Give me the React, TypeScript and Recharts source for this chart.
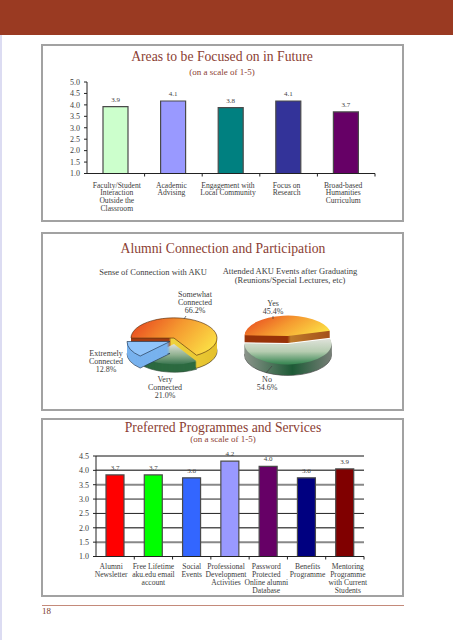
import React from 'react';
import { BarChart, Bar, XAxis, YAxis, CartesianGrid, Cell, LabelList, PieChart, Pie } from 'recharts';

// areas chart
const areaCats = ['Faculty/Student\nInteraction\nOutside the\nClassroom', 'Academic\nAdvising', 'Engagement with\nLocal Community', 'Focus on\nResearch', 'Broad-based\nHumanities\nCurriculum'];
const areaVals = [3.92, 4.17, 3.88, 4.17, 3.69];
const areaLabels = ['3.9', '4.1', '3.8', '4.1', '3.7'];
const areaColors = ['#ccffcc', '#9999ff', '#008080', '#333399', '#660066'];
const areaTicks = [1, 1.5, 2, 2.5, 3, 3.5, 4, 4.5, 5];

// programmes chart
const progCats = ['Alumni\nNewsletter', 'Free Lifetime\naku.edu email\naccount', 'Social\nEvents', 'Professional\nDevelopment\nActivities', 'Password\nProtected\nOnline alumni\nDatabase', 'Benefits\nProgramme', 'Mentoring\nProgramme\nwith Current\nStudents'];
const progVals = [3.84, 3.84, 3.74, 4.32, 4.14, 3.74, 4.05];
const progLabels = ['3.7', '3.7', '3.6', '4.2', '4.0', '3.6', '3.9'];
const progColors = ['#ff0000', '#00ff00', '#3366ff', '#9999ff', '#660066', '#000080', '#800000'];
const progTicks = [1, 1.5, 2, 2.5, 3, 3.5, 4, 4.5];

// pies
const connectNames = ['Somewhat Connected', 'Very Connected', 'Extremely Connected'];
const connectVals = [66.2, 21.0, 12.8];
const attendNames = ['Yes', 'No'];
const attendVals = [45.4, 54.6];

// styling, not data: grid line look per tick, small label shifts per category
const gridStyles: [string, number][] = [['#000', 1], ['#888', 2], ['#555', 1.5], ['#222', 1], ['#222', 1], ['#888', 2], ['#555', 1.5], ['#111', 1]];
const areaNudge = [1, -2, -3, -2, -3];
const progNudge = [-4, 0, 0, -4, -2, 1, 3];

const SERIF = '"Liberation Serif", serif';
const SQUASH = 0.47;

const areaData = areaCats.map((name, i) => ({ name, value: areaVals[i], label: areaLabels[i] }));
const progData = progCats.map((name, i) => ({ name, value: progVals[i], label: progLabels[i] }));
const connectData = connectNames.map((name, i) => ({ name, value: connectVals[i] }));
const attendData = attendNames.map((name, i) => ({ name, value: attendVals[i] }));

const CatTick = ({ x, y, payload, index, band, nudge, dy }: any) => {
    const lines = String(payload.value).split('\n');
    const tx = x + nudge[index];
    return (
        <g>
            <line x1={x + band / 2} x2={x + band / 2} y1={y} y2={y + 3} stroke="#222" />
            <text x={tx} y={y + dy} textAnchor="middle" fontSize={7.6} fontFamily={SERIF} fill="#3c3c3c">
                {lines.map((l, i) => <tspan key={i} x={tx} dy={i === 0 ? 0 : 7.9}>{l}</tspan>)}
            </text>
        </g>
    );
};

const Label = ({ x, y, w, size, color = '#3c3c3c', align = 'center', children }: any) => (
    <div style={{
        position: 'absolute', left: x - (align === 'center' ? w / 2 : 0), top: y, width: w, textAlign: align,
        fontSize: size, lineHeight: 1, color, fontFamily: SERIF, whiteSpace: 'pre',
    }}>{children}</div>
);

const Panel = ({ top, height }: any) => (
    <div style={{ position: 'absolute', left: 41, top, width: 363, height, boxSizing: 'border-box', border: '2px solid #a2a2a2', background: '#fff' }} />
);

const BarsPanel = ({ data, colors, ticks, domain, top, left, plotW, plotTop, plotH, barSize, grid, nudge, labelDy }: any) => (
    <div style={{ position: 'absolute', left: 41, top }}>
        <BarChart
            width={363} height={178} data={data}
            margin={{ left: left - 30, right: 363 - left - plotW, top: plotTop, bottom: 178 - plotTop - plotH - 44 }}
        >
            {grid && (
                <CartesianGrid
                    vertical={false}
                    horizontalValues={ticks}
                    horizontal={(p: any) => {
                        const i = ticks.findIndex((_: number, k: number) => Math.abs(p.y1 - (plotTop + plotH * (1 - k / (ticks.length - 1)))) < 1);
                        const st = gridStyles[i] || gridStyles[0];
                        return <line key={p.y1} x1={p.x1} x2={p.x2} y1={p.y1} y2={p.y2} stroke={st[0]} strokeWidth={st[1]} />;
                    }}
                />
            )}
            <XAxis
                dataKey="name" interval={0} height={44} tickLine={false} tickSize={0} tickMargin={0} axisLine={{ stroke: '#222' }}
                tick={<CatTick band={plotW / data.length} nudge={nudge} dy={labelDy} />}
            />
            <YAxis
                width={30} type="number" domain={domain} ticks={ticks} interval={0}
                tickFormatter={(v: number) => v.toFixed(1)} tickSize={3} tickMargin={4} axisLine={{ stroke: '#222' }}
                tickLine={{ stroke: '#222' }}
                tick={{ fontSize: 8, fontFamily: SERIF, fill: '#3c3c3c' }}
            />
            <Bar dataKey="value" barSize={barSize} isAnimationActive={false} stroke="#4a4a4a" strokeWidth={1.2}>
                {data.map((d: any, i: number) => <Cell key={d.name} fill={colors[i]} />)}
                <LabelList dataKey="label" position="top" offset={5} fontSize={7} fontFamily={SERIF} fill="#444" />
            </Bar>
        </BarChart>
    </div>
);

// one pie slice as a stack of flat pies, to get the tilted 3d look
const sliceStack = (id: string, data: any[], idx: number, start: number, end: number, cx: number, cy: number, r: number, depth: number, side: string, top: string, outline: string, edge: string) => {
    const layers = Array.from({ length: depth }, (_, k) => depth - k);
    const piece = (key: string, y: number, fill: string, stroke: string) => (
        <Pie
            key={key} data={data} dataKey="value" cx={cx} cy={y} outerRadius={r} innerRadius={0}
            startAngle={start} endAngle={end} isAnimationActive={false} label={false} labelLine={false} paddingAngle={0}
            legendType="none"
        >
            {data.map((d, i) => (
                <Cell key={d.name} fill={i === idx ? fill : 'none'} stroke={i === idx ? stroke : 'none'} strokeWidth={0.9} />
            ))}
        </Pie>
    );
    return [
        ...layers.map(k => piece(`${id}-l${k}`, cy + k / SQUASH, side, k === depth ? edge : 'none')),
        piece(`${id}-top`, cy, top, outline),
    ];
};

const Defs = () => (
    <defs>
        <linearGradient id="hot" x1="0" y1="0.2" x2="1" y2="0.6">
            <stop offset="0" stopColor="#e8481f" />
            <stop offset="0.5" stopColor="#f59a30" />
            <stop offset="1" stopColor="#fbdc44" />
        </linearGradient>
        <linearGradient id="hotSide" x1="0" y1="0" x2="1" y2="0">
            <stop offset="0.44" stopColor="#a03a10" />
            <stop offset="0.47" stopColor="#efd23c" />
            <stop offset="1" stopColor="#e4c02c" />
        </linearGradient>
        <linearGradient id="leaf" x1="0" y1="0" x2="0" y2="1">
            <stop offset="0" stopColor="#dfe2da" />
            <stop offset="0.5" stopColor="#b5ccb0" />
            <stop offset="0.95" stopColor="#3f8a58" />
        </linearGradient>
        <linearGradient id="leafDeep" x1="0" y1="0" x2="0" y2="1">
            <stop offset="0" stopColor="#dfe1d9" />
            <stop offset="0.55" stopColor="#8fb08f" />
            <stop offset="1" stopColor="#3a7550" />
        </linearGradient>
        <linearGradient id="leafSide" x1="0" y1="0" x2="1" y2="0">
            <stop offset="0" stopColor="#8b948a" />
            <stop offset="0.55" stopColor="#1d5a36" />
            <stop offset="1" stopColor="#777f77" />
        </linearGradient>
        <linearGradient id="cut" x1="0" y1="0" x2="1" y2="0">
            <stop offset="0.5" stopColor="#983208" />
            <stop offset="0.54" stopColor="#bd7a2a" />
            <stop offset="1" stopColor="#a4501a" />
        </linearGradient>
    </defs>
);

export default function App() {
    const h = 100 / SQUASH;
    return (
        <div style={{ position: 'absolute', left: 0, top: 0, width: 453, height: 640, background: '#fff', overflow: 'hidden' }}>
            <div style={{ position: 'absolute', left: 0, top: 0, width: 2, height: 640, background: '#dcdcf2' }} />
            <div style={{ position: 'absolute', left: 0, top: 0, width: 453, height: 35, background: '#9a3a22' }} />

            <Panel top={44} height={178} />
            <Panel top={232} height={179} />
            <Panel top={418} height={179} />

            <Label x={222} y={50} w={300} size={13.7} color="#8b4033">Areas to be Focused on in Future</Label>
            <Label x={222} y={68} w={200} size={9} color="#8b4033">(on a scale of 1-5)</Label>
            <BarsPanel data={areaData} colors={areaColors} ticks={areaTicks} domain={[1, 5]} top={44} left={46} plotW={288} plotTop={38} plotH={91.5} barSize={25} nudge={areaNudge} labelDy={14} />

            <Label x={223} y={242} w={320} size={13.7} color="#8b4033">Alumni Connection and Participation</Label>
            <Label x={153} y={268} w={160} size={8.5}>Sense of Connection with AKU</Label>
            <Label x={290} y={267} w={170} size={8.5}>{'Attended AKU Events after Graduating\n(Reunions/Special Lectures, etc)'}</Label>
            <Label x={195} y={291} w={70} size={8}>{'Somewhat\nConnected\n66.2%'}</Label>
            <Label x={106} y={350} w={70} size={8}>{'Extremely\nConnected\n12.8%'}</Label>
            <Label x={165} y={376} w={70} size={8}>{'Very\nConnected\n21.0%'}</Label>
            <Label x={273} y={300} w={50} size={8}>{'Yes\n45.4%'}</Label>
            <Label x={267} y={376} w={50} size={8}>{'No\n54.6%'}</Label>

            <div style={{ position: 'absolute', left: 110, top: 300, transform: `scaleY(${SQUASH})`, transformOrigin: '0 0' }}>
                <PieChart width={130} height={h} margin={{ top: 0, left: 0, right: 0, bottom: 0 }}>
                    <Defs />
                    {sliceStack('some', connectData, 0, 180, -180, 64, 81, 43, 13, 'url(#hotSide)', 'url(#hot)', '#5a3410', '#3a2a10')}
                    {sliceStack('very', connectData, 1, 180, -180, 64, 93.6, 43, 8, '#2c6a40', 'url(#leafDeep)', 'none', '#33503c')}
                    {sliceStack('ext', connectData, 2, 180, -180, 60, 88.3, 43, 12, '#78b2ee', '#90c4fa', '#23364f', '#23364f')}
                </PieChart>
            </div>
            <div style={{ position: 'absolute', left: 230, top: 300, transform: `scaleY(${SQUASH})`, transformOrigin: '0 0' }}>
                <PieChart width={120} height={h} margin={{ top: 0, left: 0, right: 0, bottom: 0 }}>
                    <Defs />
                    {sliceStack('no', attendData, 1, 178, -182, 58, 93.6, 43.5, 11, 'url(#leafSide)', 'url(#leaf)', 'none', '#444')}
                    {sliceStack('yes', attendData, 0, 178, -182, 58, 76.6, 43.5, 7, 'url(#cut)', 'url(#hot)', 'none', 'none')}
                </PieChart>
            </div>
            <svg width={453} height={640} style={{ position: 'absolute', left: 0, top: 0, pointerEvents: 'none' }}>
                <path d="M186 316L184 319M273 316L273 319M272 366L266 373" stroke="#444" strokeWidth={0.7} fill="none" />
            </svg>

            <Label x={223} y={421} w={320} size={13.7} color="#8b4033">Preferred Programmes and Services</Label>
            <Label x={223} y={435} w={200} size={9} color="#8b4033">(on a scale of 1-5)</Label>
            <BarsPanel data={progData} colors={progColors} ticks={progTicks} domain={[1, 4.5]} top={418} left={55} plotW={268} plotTop={38} plotH={100.5} barSize={18} grid nudge={progNudge} labelDy={12.5} />

            <div style={{ position: 'absolute', left: 42, top: 605, width: 362, height: 1, background: '#c48a7a' }} />
            <Label x={42} y={607} w={30} size={9} color="#7a3a2a" align="left">18</Label>
        </div>
    );
}
